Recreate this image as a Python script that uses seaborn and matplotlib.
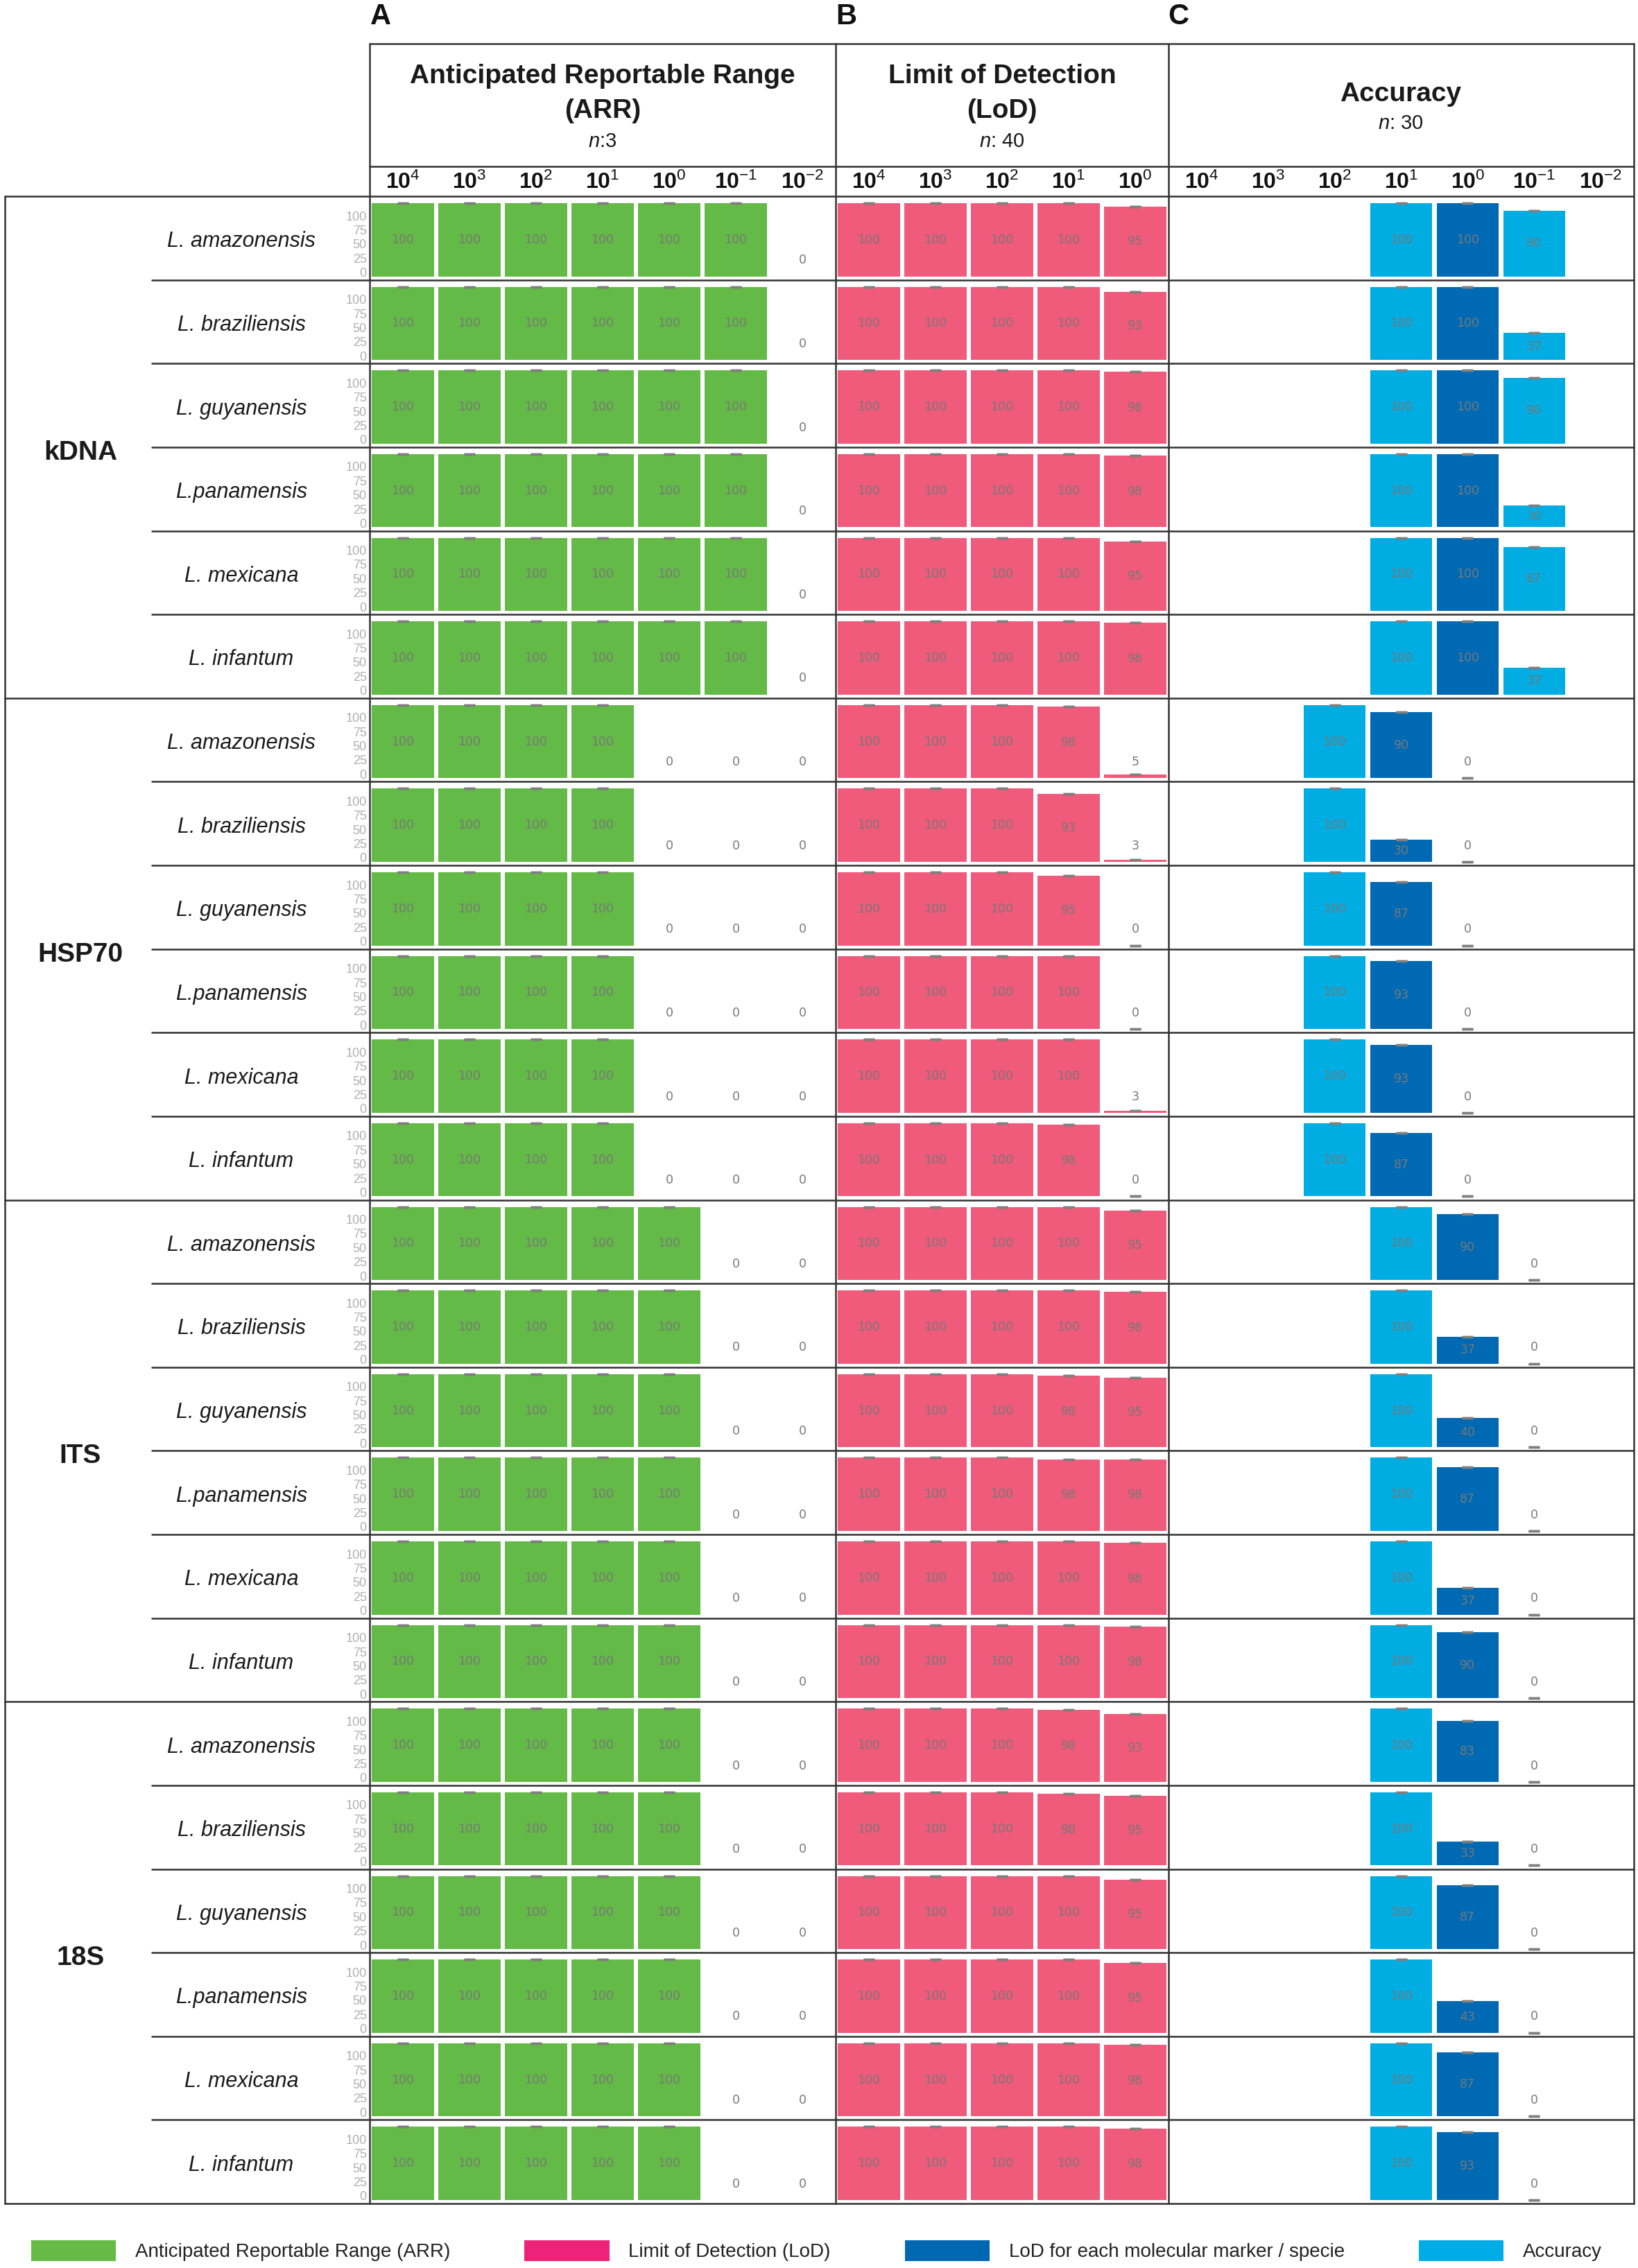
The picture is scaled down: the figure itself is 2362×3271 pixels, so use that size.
import numpy as np
import pandas as pd
import matplotlib.pyplot as plt
import seaborn as sns
from matplotlib.lines import Line2D
from matplotlib.patches import Patch

# Concentrations (columns) and row names
conc = ["1e4", "1e3", "1e2", "1e1", "1e0", "1e-1", "1e-2"]
conc_labels = [r"10$^{4}$", r"10$^{3}$", r"10$^{2}$", r"10$^{1}$", r"10$^{0}$", r"10$^{-1}$", r"10$^{-2}$"]
lod_conc = ["1e4", "1e3", "1e2", "1e1", "1e0"]

markers = ["kDNA", "HSP70", "ITS", "18S"]
species = ["L. amazonensis", "L. braziliensis", "L. guyanensis",
           "L.panamensis", "L. mexicana", "L. infantum"]

# A - Anticipated Reportable Range (%), 10^4 ... 10^-2
arr_kdna = [[100, 100, 100, 100, 100, 100, 0],
            [100, 100, 100, 100, 100, 100, 0],
            [100, 100, 100, 100, 100, 100, 0],
            [100, 100, 100, 100, 100, 100, 0],
            [100, 100, 100, 100, 100, 100, 0],
            [100, 100, 100, 100, 100, 100, 0]]
arr_hsp70 = [[100, 100, 100, 100, 0, 0, 0],
             [100, 100, 100, 100, 0, 0, 0],
             [100, 100, 100, 100, 0, 0, 0],
             [100, 100, 100, 100, 0, 0, 0],
             [100, 100, 100, 100, 0, 0, 0],
             [100, 100, 100, 100, 0, 0, 0]]
arr_its = [[100, 100, 100, 100, 100, 0, 0],
           [100, 100, 100, 100, 100, 0, 0],
           [100, 100, 100, 100, 100, 0, 0],
           [100, 100, 100, 100, 100, 0, 0],
           [100, 100, 100, 100, 100, 0, 0],
           [100, 100, 100, 100, 100, 0, 0]]
arr_18s = [[100, 100, 100, 100, 100, 0, 0],
           [100, 100, 100, 100, 100, 0, 0],
           [100, 100, 100, 100, 100, 0, 0],
           [100, 100, 100, 100, 100, 0, 0],
           [100, 100, 100, 100, 100, 0, 0],
           [100, 100, 100, 100, 100, 0, 0]]

# B - Limit of Detection (%), 10^4 ... 10^0
lod_kdna = [[100, 100, 100, 100, 95], [100, 100, 100, 100, 93], [100, 100, 100, 100, 98],
            [100, 100, 100, 100, 98], [100, 100, 100, 100, 95], [100, 100, 100, 100, 98]]
lod_hsp70 = [[100, 100, 100, 98, 5], [100, 100, 100, 93, 3], [100, 100, 100, 95, 0],
             [100, 100, 100, 100, 0], [100, 100, 100, 100, 3], [100, 100, 100, 98, 0]]
lod_its = [[100, 100, 100, 100, 95], [100, 100, 100, 100, 98], [100, 100, 100, 98, 95],
           [100, 100, 100, 98, 98], [100, 100, 100, 100, 98], [100, 100, 100, 100, 98]]
lod_18s = [[100, 100, 100, 98, 93], [100, 100, 100, 98, 95], [100, 100, 100, 100, 95],
           [100, 100, 100, 100, 95], [100, 100, 100, 100, 98], [100, 100, 100, 100, 98]]

# C - Accuracy (%), None = not tested
N = None
acc_kdna = [[N, N, N, 100, 100, 90, N], [N, N, N, 100, 100, 37, N], [N, N, N, 100, 100, 90, N],
            [N, N, N, 100, 100, 30, N], [N, N, N, 100, 100, 87, N], [N, N, N, 100, 100, 37, N]]
acc_hsp70 = [[N, N, 100, 90, 0, N, N], [N, N, 100, 30, 0, N, N], [N, N, 100, 87, 0, N, N],
             [N, N, 100, 93, 0, N, N], [N, N, 100, 93, 0, N, N], [N, N, 100, 87, 0, N, N]]
acc_its = [[N, N, N, 100, 90, 0, N], [N, N, N, 100, 37, 0, N], [N, N, N, 100, 40, 0, N],
           [N, N, N, 100, 87, 0, N], [N, N, N, 100, 37, 0, N], [N, N, N, 100, 90, 0, N]]
acc_18s = [[N, N, N, 100, 83, 0, N], [N, N, N, 100, 33, 0, N], [N, N, N, 100, 87, 0, N],
           [N, N, N, 100, 43, 0, N], [N, N, N, 100, 87, 0, N], [N, N, N, 100, 93, 0, N]]

# which series each accuracy column belongs to
acc_kdna_kind = [N, N, N, "Accuracy", "LoD marker", "Accuracy", N]
acc_hsp70_kind = [N, N, "Accuracy", "LoD marker", "LoD marker", N, N]
acc_its_kind = [N, N, N, "Accuracy", "LoD marker", "LoD marker", N]
acc_18s_kind = [N, N, N, "Accuracy", "LoD marker", "LoD marker", N]

arr_data = {"kDNA": arr_kdna, "HSP70": arr_hsp70, "ITS": arr_its, "18S": arr_18s}
lod_data = {"kDNA": lod_kdna, "HSP70": lod_hsp70, "ITS": lod_its, "18S": lod_18s}
acc_data = {"kDNA": acc_kdna, "HSP70": acc_hsp70, "ITS": acc_its, "18S": acc_18s}
acc_kind = {"kDNA": acc_kdna_kind, "HSP70": acc_hsp70_kind, "ITS": acc_its_kind, "18S": acc_18s_kind}

colors = {"ARR": "#63BA46", "LoD": "#F05A7B", "LoD marker": "#0069B4", "Accuracy": "#00ADE3"}
legend_colors = ["#66BB46", "#EE2278", "#0068B3", "#00ACE5"]
legend_labels = ["Anticipated Reportable Range (ARR)", "Limit of Detection (LoD)",
                 "LoD for each molecular marker / specie", "Accuracy"]

sns.set_theme(style="white")
plt.rcParams['font.family'] = ['Liberation Sans', 'DejaVu Sans']
plt.rcParams['mathtext.fontset'] = 'custom'
plt.rcParams['mathtext.rm'] = 'Liberation Sans'
plt.rcParams['mathtext.it'] = 'Liberation Sans:italic'
plt.rcParams['mathtext.bf'] = 'Liberation Sans:bold'

W, H = 2362, 3271
fig = plt.figure(figsize=(W / 100, H / 100), dpi=100)
fig.patch.set_facecolor('white')

line_c = '#333333'
line_w = 1.8


def fx(x):
    return x / W


def fy(y):
    return 1 - y / H


def hline(y, x0, x1):
    fig.add_artist(Line2D([fx(x0), fx(x1)], [fy(y), fy(y)], color=line_c, lw=line_w,
                          transform=fig.transFigure))


def vline(x, y0, y1):
    fig.add_artist(Line2D([fx(x), fx(x)], [fy(y0), fy(y1)], color=line_c, lw=line_w,
                          transform=fig.transFigure))


# layout (pixels)
box_top, title_bot, body_top, body_bot = 63, 240, 283, 3178
left_x, species_x = 7, 219
row_h = (body_bot - body_top) / 24
panels = [("ARR", 533, 1205, conc), ("LoD", 1205, 1685, lod_conc), ("Acc", 1685, 2356, conc)]

# tick labels for the compressed y scale drawn beside the ARR bars
def tick_fwd(p):
    return (np.asarray(p) - 5.7) / 0.772


def tick_inv(s):
    return 5.7 + 0.772 * np.asarray(s)


def draw_cell(ax, order, xs, vals, kinds, zero_cap, top_row, labels, yticks):
    df = pd.DataFrame({"conc": xs, "value": vals, "kind": kinds})
    sns.barplot(data=df, x="conc", y="value", hue="kind", order=order,
                hue_order=list(colors), palette=colors, dodge=False, saturation=1,
                width=0.93, errorbar=None, legend=False, linewidth=0, ax=ax)
    pos = [order.index(x) for x in xs]
    cap_pos = [p for p, v in zip(pos, vals) if v > 0 or zero_cap]
    cap_val = [v for v in vals if v > 0 or zero_cap]
    if cap_pos:
        ax.errorbar(cap_pos, cap_val, yerr=np.zeros(len(cap_val)), fmt='none',
                    ecolor='#7f7f7f', elinewidth=0, capsize=6, capthick=2.5, zorder=5)
    for p, v in zip(pos, vals):
        ty = v / 2 if v >= 20 else 22
        ax.text(p, ty, f"{v}", ha='center', va='center', fontsize=12.5,
                color='#787878', family='DejaVu Sans', zorder=6)
    ax.set_xlim(-0.5, len(order) - 0.5)
    ax.set_ylim(-4.8, 109.5)
    ax.set_xlabel('')
    ax.set_ylabel('')
    for s in ax.spines.values():
        s.set_visible(False)
    ax.set_facecolor('none')
    ax.set_yticks([])
    if top_row:
        ax.set_xticks(range(len(order)))
        ax.set_xticklabels(labels, fontsize=23, fontweight='bold', color='#111111')
        ax.tick_params(axis='x', top=True, labeltop=True, bottom=False,
                       labelbottom=False, length=0, pad=3)
    else:
        ax.set_xticks([])
    if yticks:
        sec = ax.secondary_yaxis('left', functions=(tick_fwd, tick_inv))
        sec.set_yticks([0, 25, 50, 75, 100])
        sec.tick_params(length=0, pad=3, labelsize=13, labelcolor='#b0b0b0')
        sec.spines['left'].set_visible(False)


r = 0
for m in markers:
    for i, sp in enumerate(species):
        top = body_top + r * row_h
        for name, x0, x1, order in panels:
            ax = fig.add_axes([fx(x0), fy(top + row_h), (x1 - x0) / W, row_h / H])
            if name == "ARR":
                vals = arr_data[m][i]
                draw_cell(ax, order, order, vals, ["ARR"] * len(vals), False,
                          r == 0, conc_labels, True)
            elif name == "LoD":
                vals = lod_data[m][i]
                draw_cell(ax, order, order, vals, ["LoD"] * len(vals), True,
                          r == 0, conc_labels[:5], False)
            else:
                row = acc_data[m][i]
                xs = [c for c, v in zip(order, row) if v is not None]
                vals = [v for v in row if v is not None]
                kinds = [k for k, v in zip(acc_kind[m], row) if v is not None]
                draw_cell(ax, order, xs, vals, kinds, True, r == 0, conc_labels, False)
        fig.text(fx(348), fy(top + row_h / 2 + 5), sp, ha='center', va='center',
                 fontsize=22, style='italic', color='#1a1a1a')
        if i > 0:
            hline(top, species_x, 2356)
        r += 1
    g_top = body_top + markers.index(m) * 6 * row_h
    fig.text(fx(116), fy(g_top + 3 * row_h + 8), m, ha='center', va='center',
             fontsize=28, fontweight='bold', color='#1a1a1a')
    if m != markers[0]:
        hline(g_top, left_x, 2356)

# frame lines
hline(box_top, 533, 2356)
hline(title_bot, 533, 2356)
hline(body_top, left_x, 2356)
hline(body_bot, left_x, 2356)
for x in [533, 1205, 1685, 2356]:
    vline(x, box_top, body_bot)
vline(left_x, body_top, body_bot)

# panel letters and titles
for letter, x in [("A", 534), ("B", 1205), ("C", 1684)]:
    fig.text(fx(x), fy(24), letter, ha='left', va='center', fontsize=30,
             fontweight='bold', color='#111111')

title_kw = dict(ha='center', va='baseline', fontsize=28, fontweight='bold', color='#1a1a1a')
sub_kw = dict(ha='center', va='baseline', fontsize=21, color='#1a1a1a')
fig.text(fx(869), fy(120), "Anticipated Reportable Range", **title_kw)
fig.text(fx(869), fy(170), "(ARR)", **title_kw)
fig.text(fx(869), fy(212), r"$n$:3", **sub_kw)
fig.text(fx(1445), fy(120), "Limit of Detection", **title_kw)
fig.text(fx(1445), fy(170), "(LoD)", **title_kw)
fig.text(fx(1445), fy(212), r"$n$: 40", **sub_kw)
fig.text(fx(2020), fy(146), "Accuracy", **title_kw)
fig.text(fx(2020), fy(186), r"$n$: 30", **sub_kw)

# legend
handles = [Patch(facecolor=c, edgecolor='none', label=l) for c, l in zip(legend_colors, legend_labels)]
fig.legend(handles=handles, loc='center left', bbox_to_anchor=(fx(45), fy(3246)), ncol=4,
           frameon=False, fontsize=20, handlelength=4.4, handleheight=1.26,
           handletextpad=1.0, columnspacing=3.85, borderpad=0, borderaxespad=0,
           labelcolor='#222222')

fig.savefig("out.png", dpi=100, facecolor='white')
